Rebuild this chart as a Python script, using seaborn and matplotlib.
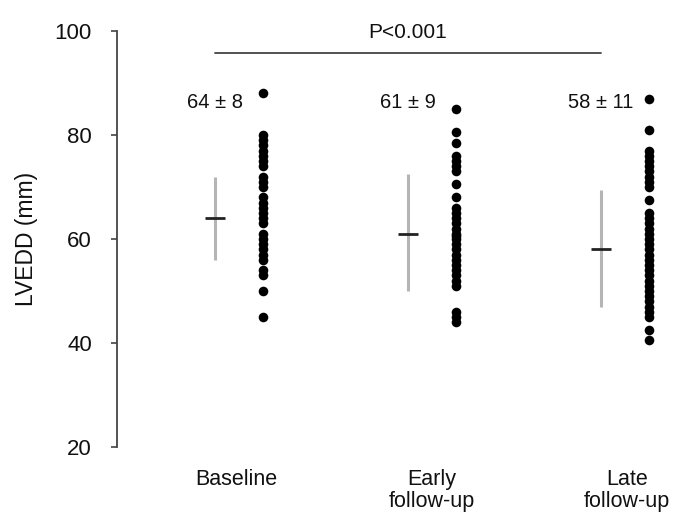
import numpy as np
import pandas as pd
import matplotlib
matplotlib.use("Agg")
import matplotlib.pyplot as plt
import seaborn as sns

# ---- data ----
categories = ["Baseline", "Early\nfollow-up", "Late\nfollow-up"]
baseline = [88, 80, 79, 78, 77, 76, 75, 74, 72, 71, 70, 68, 67, 66, 65, 64, 63,
            61, 60, 59, 58, 57, 56, 54, 53, 50, 45]
early = [85, 80.5, 78.5, 76, 75, 74, 73, 70.5, 68, 66, 65, 64, 63, 62, 61, 60.5,
         60, 59, 58, 57, 56, 55, 54, 53, 52, 51, 46, 45, 44]
late = [87, 81, 77, 76, 75, 74, 73, 72, 71, 70, 67.5, 65, 64, 63, 62, 61, 60, 59,
        58, 57, 56, 55, 54, 53, 52, 51, 50, 49, 48, 47, 46, 45, 42.5, 40.5]
means = [64, 61, 58]
err_low = [56, 50, 47]
err_high = [72, 72.5, 69.5]
stat_labels = ["64 ± 8", "61 ± 9", "58 ± 11"]
p_label = "P<0.001"
y_ticks = [20, 40, 60, 80, 100]

sns.set_theme(style="white")
plt.rcParams["font.family"] = ["Liberation Sans", "DejaVu Sans"]
plt.rcParams["text.color"] = "black"

series = [baseline, early, late]
rows = []
for i, vals in enumerate(series):
    for v in vals:
        rows.append({"pos": i + 0.125, "value": v})
df = pd.DataFrame(rows)

fig = plt.figure(figsize=(6.74, 5.17), dpi=100)
ax = fig.add_axes([117 / 674, 70 / 517, 1 - 117 / 674, 416 / 517])

sns.scatterplot(data=df, x="pos", y="value", color="black", s=48,
                edgecolor="black", linewidth=0, ax=ax, legend=False)

for i in range(3):
    xe = i - 0.125
    ax.vlines(xe, err_low[i], err_high[i], color="#b5b5b5", lw=2.2)
    ax.hlines(means[i], xe - 0.05, xe + 0.05, color="#222222", lw=2)
    ax.text(xe, 86.2, stat_labels[i], ha="center", va="center", fontsize=14.5,
            color="#111111")

ax.plot([-0.125, 1.875], [95.8, 95.8], color="#444444", lw=1.3, clip_on=False)
ax.text(0.875, 99.8, p_label, ha="center", va="center", fontsize=15, color="#111111")

ax.set_xlim(-0.632, 2.254)
ax.set_ylim(20, 100)
ax.set_yticks(y_ticks)
ax.set_yticklabels([str(t) for t in y_ticks], fontsize=16, color="#111111")
ax.set_xticks([-0.015, 1.0, 2.01])
ax.set_xticklabels(categories, fontsize=15.5, multialignment="center",
                   color="#111111", linespacing=1.05)
ax.tick_params(axis="x", length=0, pad=16)
ax.tick_params(axis="y", length=4, width=1.2, color="#444444", left=True, direction="out", pad=14)
ax.set_xlabel("")
ax.set_ylabel("LVEDD (mm)", fontsize=16.5, labelpad=12, color="#111111")

for s in ["top", "right", "bottom"]:
    ax.spines[s].set_visible(False)
ax.spines["left"].set_color("#444444")
ax.spines["left"].set_linewidth(1.3)

fig.savefig("out.png", dpi=100)
